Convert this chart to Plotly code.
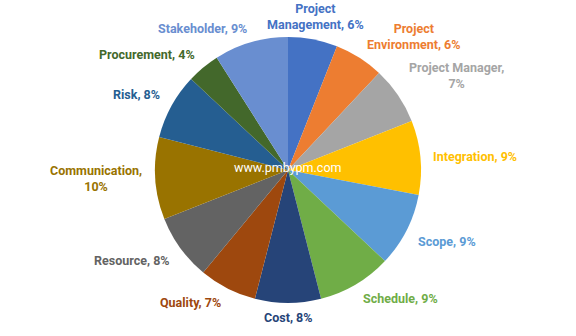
import math
import plotly.graph_objects as go

labels = ["Project Management", "Project Environment", "Project Manager", "Integration",
          "Scope", "Schedule", "Cost", "Quality", "Resource", "Communication",
          "Risk", "Procurement", "Stakeholder"]
text_labels = ["Project<br>Management, 6%", "Project<br>Environment, 6%", "Project Manager,<br>7%",
               "Integration, 9%", "Scope, 9%", "Schedule, 9%", "Cost, 8%", "Quality, 7%",
               "Resource, 8%", "Communication,<br>10%", "Risk, 8%", "Procurement, 4%", "Stakeholder, 9%"]
values = [6, 6, 7, 9, 9, 9, 8, 7, 8, 10, 8, 4, 9]
colors = ["#4472C4", "#ED7D31", "#A5A5A5", "#FFC000", "#5B9BD5", "#70AD47", "#264478",
          "#9E480E", "#636363", "#997300", "#255E91", "#43682B", "#698ED0"]

W, H = 576, 336
cx, cy, R = 288, 170, 133  # pie center and radius in pixels
gap_x, gap_y = 12, 6

fig = go.Figure(go.Pie(
    labels=labels, values=values, sort=False, direction="clockwise",
    rotation=0, textinfo="none",
    marker=dict(colors=colors, line=dict(width=0)),
    domain=dict(x=[(cx - R) / W, (cx + R) / W], y=[1 - (cy + R) / H, 1 - (cy - R) / H]),
    showlegend=False, hoverinfo="label+percent",
))

total = sum(values)
cum = 0
for lab, v, col in zip(text_labels, values, colors):
    mid = (cum + v / 2) / total * 2 * math.pi
    cum += v
    s, c = math.sin(mid), math.cos(mid)
    px = cx + (R + gap_x) * s
    py = cy - (R + gap_y) * c
    xa = "left" if s > 0.25 else ("right" if s < -0.25 else "center")
    ya = "bottom" if c > 0.25 else ("top" if c < -0.25 else "middle")
    fig.add_annotation(text="<b>" + lab + "</b>", x=px / W, y=1 - py / H, xref="paper", yref="paper",
                       xanchor=xa, yanchor=ya, showarrow=False, align="center", borderpad=0,
                       font=dict(color=col, size=12.5, family="Roboto"))

fig.add_annotation(text="www.pmbypm.com", x=cx / W, y=1 - 167 / H, xref="paper", yref="paper",
                   showarrow=False, font=dict(color="white", size=12.5, family="Roboto"))
fig.update_layout(width=W, height=H, margin=dict(l=0, r=0, t=0, b=0),
                  paper_bgcolor="white", plot_bgcolor="white")
fig.write_html("out.html")
